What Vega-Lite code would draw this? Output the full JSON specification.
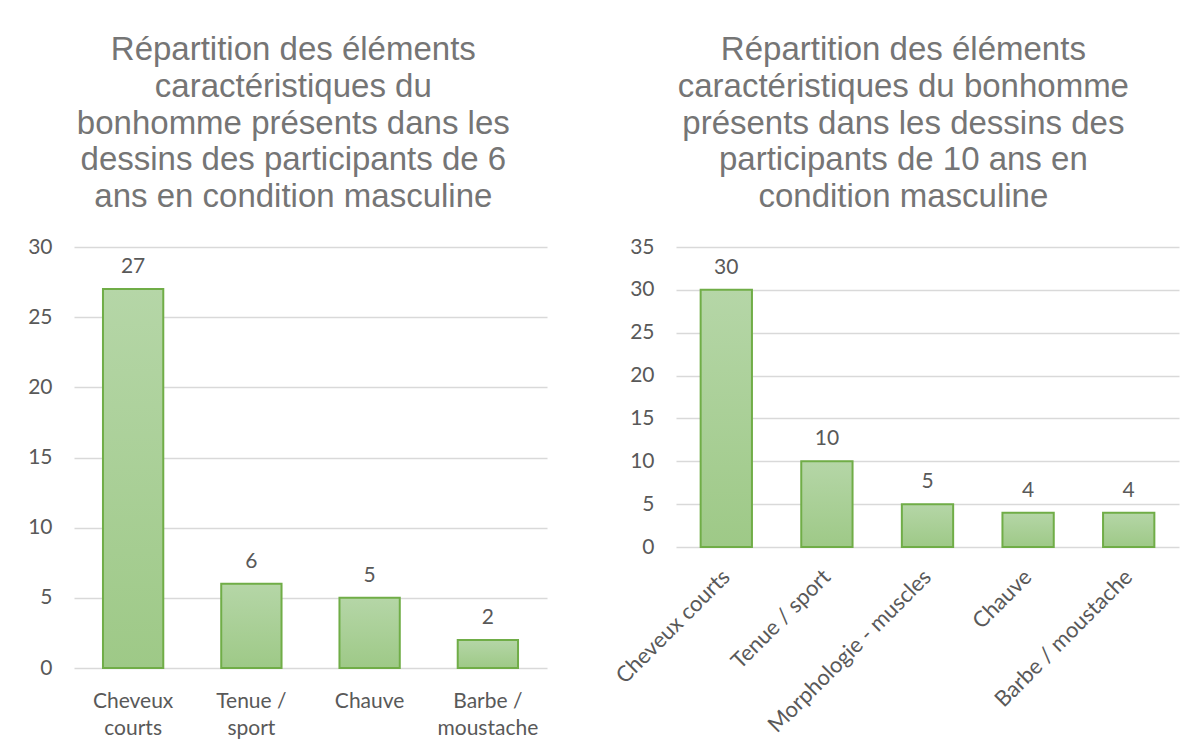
{
  "$schema": "https://vega.github.io/schema/vega-lite/v6.json",
  "background": "white",
  "padding": {"left": 27, "top": 34, "right": 10, "bottom": 5},
  "config": {
    "view": {"stroke": null},
    "font": "Lato",
    "title": {"font": "Liberation Sans", "fontSize": 33, "fontWeight": "normal", "color": "#757575", "lineHeight": 36.7, "anchor": "middle", "frame": "bounds", "offset": 22},
    "axis": {"labelFont": "Lato", "labelFontSize": 21, "labelColor": "#595959", "labelLimit": 400, "ticks": false, "domain": false, "title": null, "gridColor": "#d9d9d9", "gridWidth": 1.5},
    "concat": {"spacing": 64}
  },
  "hconcat": [
    {
      "width": 473,
      "height": 421,
      "title": {"text": ["Répartition des éléments", "caractéristiques du", "bonhomme présents dans les", "dessins des participants de 6", "ans en condition masculine"], "dx": 6},
      "data": {"values": [
        {"element": "Cheveux courts", "n": 27},
        {"element": "Tenue / sport", "n": 6},
        {"element": "Chauve", "n": 5},
        {"element": "Barbe / moustache", "n": 2}
      ]},
      "encoding": {
        "x": {"field": "element", "type": "nominal", "sort": null,
          "scale": {"paddingInner": 0.49, "paddingOuter": 0.245},
          "axis": {"labelAngle": 0, "grid": false, "labelPadding": 22, "labelLineHeight": 27,
            "labelExpr": "indexof(datum.label, ' ') < 0 ? datum.label : [substring(datum.label, 0, lastindexof(datum.label, ' ')), substring(datum.label, lastindexof(datum.label, ' ') + 1)]"}},
        "y": {"field": "n", "type": "quantitative", "scale": {"domain": [0, 30]},
          "axis": {"values": [0, 5, 10, 15, 20, 25, 30], "grid": true, "labelPadding": 22}}
      },
      "layer": [
        {"mark": {"type": "bar", "stroke": "#70ad47", "strokeWidth": 2,
          "fill": {"gradient": "linear", "x1": 0, "y1": 0, "x2": 0, "y2": 1,
            "stops": [{"offset": 0, "color": "#b5d6a7"}, {"offset": 1, "color": "#9ec987"}]}}},
        {"mark": {"type": "text", "baseline": "bottom", "dy": -12, "fontSize": 21, "color": "#595959", "font": "Lato"},
          "encoding": {"text": {"field": "n", "type": "quantitative"}}}
      ]
    },
    {
      "width": 503,
      "height": 300,
      "title": {"text": ["Répartition des éléments", "caractéristiques du bonhomme", "présents dans les dessins des", "participants de 10 ans en", "condition masculine"], "dx": 8},
      "data": {"values": [
        {"element": "Cheveux courts", "n": 30},
        {"element": "Tenue / sport", "n": 10},
        {"element": "Morphologie - muscles", "n": 5},
        {"element": "Chauve", "n": 4},
        {"element": "Barbe / moustache", "n": 4}
      ]},
      "encoding": {
        "x": {"field": "element", "type": "nominal", "sort": null,
          "scale": {"paddingInner": 0.49, "paddingOuter": 0.245},
          "axis": {"labelAngle": -45, "labelAlign": "right", "labelBaseline": "middle", "labelFontSize": 22, "grid": false, "labelPadding": 26}},
        "y": {"field": "n", "type": "quantitative", "scale": {"domain": [0, 35]},
          "axis": {"values": [0, 5, 10, 15, 20, 25, 30, 35], "grid": true, "labelPadding": 22}}
      },
      "layer": [
        {"mark": {"type": "bar", "stroke": "#70ad47", "strokeWidth": 2,
          "fill": {"gradient": "linear", "x1": 0, "y1": 0, "x2": 0, "y2": 1,
            "stops": [{"offset": 0, "color": "#b5d6a7"}, {"offset": 1, "color": "#9ec987"}]}}},
        {"mark": {"type": "text", "baseline": "bottom", "dy": -12, "fontSize": 21, "color": "#595959", "font": "Lato"},
          "encoding": {"text": {"field": "n", "type": "quantitative"}}}
      ]
    }
  ]
}
